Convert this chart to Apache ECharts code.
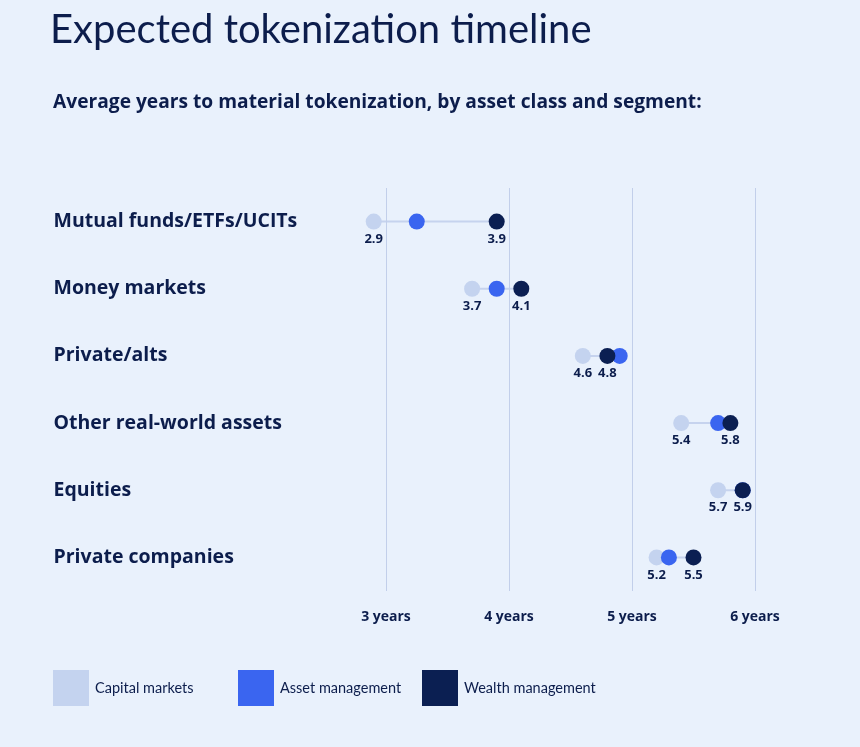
<!DOCTYPE html>
<html>
<head>
<meta charset="utf-8">
<script src="https://cdn.jsdelivr.net/npm/echarts@6/dist/echarts.min.js"></script>
<style>
  html, body { margin: 0; padding: 0; background: #e9f1fc; }
  #chart { width: 860px; height: 747px; }
</style>
</head>
<body>
<div id="chart"></div>
<script>
// asset classes, top to bottom
const categories = ['Mutual funds/ETFs/UCITs', 'Money markets', 'Private/alts', 'Other real-world assets', 'Equities', 'Private companies']
// average years per segment
const capitalMarkets = [2.9, 3.7, 4.6, 5.4, 5.7, 5.2]
const assetManagement = [3.25, 3.9, 4.9, 5.7, 5.9, 5.3]
const wealthManagement = [3.9, 4.1, 4.8, 5.8, 5.9, 5.5]
const gridYears = [3, 4, 5, 6]

const NAVY = '#0c1d4c'
const FONT = 'Lato, "Open Sans", sans-serif'
const BOLD_FONT = '"Open Sans", Lato, sans-serif'

const chart = echarts.init(document.getElementById('chart'))

const rangeData = categories.map((c, i) => {
  const vals = [capitalMarkets[i], assetManagement[i], wealthManagement[i]]
  return [i, Math.min(...vals), Math.max(...vals)]
})

const dotSeries = (name, values, color, withLabel) => ({
  name: name,
  type: 'scatter',
  symbolSize: 16,
  itemStyle: { color: color, opacity: 1 },
  data: values.map((v, i) => [v, i]),
  label: {
    show: withLabel,
    position: 'bottom',
    distance: 3,
    color: NAVY,
    fontFamily: BOLD_FONT,
    fontWeight: 'bold',
    fontSize: 13,
    formatter: (p) => p.value[0].toFixed(1)
  },
  z: 3
})

const legendAt = (left, name) => ({
  left: left,
  top: 670,
  padding: 0,
  itemWidth: 36,
  itemHeight: 36,
  icon: 'rect',
  itemGap: 0,
  selectedMode: false,
  data: [name],
  textStyle: { color: NAVY, fontFamily: FONT, fontSize: 14.5, padding: [0, 0, 0, 1] }
})

const option = {
  backgroundColor: '#e9f1fc',
  animation: false,
  color: ['#c4d3ef', '#3a65f0', '#0b1f52'],
  title: [
    {
      text: 'Expected tokenization timeline',
      left: 50,
      top: 10,
      padding: 0,
      textStyle: { color: NAVY, fontFamily: FONT, fontWeight: 'normal', fontSize: 40 }
    },
    {
      text: 'Average years to material tokenization, by asset class and segment:',
      left: 53,
      top: 93,
      padding: 0,
      textStyle: { color: NAVY, fontFamily: BOLD_FONT, fontWeight: 'bold', fontSize: 19.2 }
    }
  ],
  legend: [
    legendAt(53, 'Capital markets'),
    legendAt(238, 'Asset management'),
    legendAt(422, 'Wealth management')
  ],
  grid: { left: 324.5, right: 43.5, top: 188, bottom: 156 },
  xAxis: {
    type: 'value',
    min: 2.5,
    max: 6.5,
    interval: 0.5,
    axisLine: { show: false },
    axisTick: { show: false },
    splitLine: { show: false },
    axisLabel: {
      margin: 19,
      color: NAVY,
      fontFamily: BOLD_FONT,
      fontWeight: 'bold',
      fontSize: 14,
      formatter: (v) => Number.isInteger(v) ? v + ' years' : ''
    }
  },
  yAxis: {
    type: 'category',
    inverse: true,
    data: categories,
    axisLine: { show: false },
    axisTick: { show: false },
    axisLabel: {
      align: 'left',
      margin: 271,
      color: NAVY,
      fontFamily: BOLD_FONT,
      fontWeight: 'bold',
      fontSize: 19.5
    }
  },
  series: [
    {
      type: 'custom',
      name: 'range',
      data: rangeData,
      encode: { x: [1, 2], y: 0 },
      renderItem: (params, api) => {
        const a = api.coord([api.value(1), api.value(0)])
        const b = api.coord([api.value(2), api.value(0)])
        return {
          type: 'line',
          shape: { x1: a[0], y1: a[1], x2: b[0], y2: b[1] },
          style: { stroke: '#c6d3ee', lineWidth: 2 }
        }
      },
      markLine: {
        silent: true,
        symbol: 'none',
        label: { show: false },
        lineStyle: { color: '#c2cfea', type: 'solid', width: 1 },
        data: gridYears.map(v => ({ xAxis: v }))
      },
      z: 2
    },
    dotSeries('Capital markets', capitalMarkets, '#c4d3ef', true),
    dotSeries('Asset management', assetManagement, '#3a65f0', false),
    dotSeries('Wealth management', wealthManagement, '#0b1f52', true)
  ]
}

chart.setOption(option)
</script>
</body>
</html>
